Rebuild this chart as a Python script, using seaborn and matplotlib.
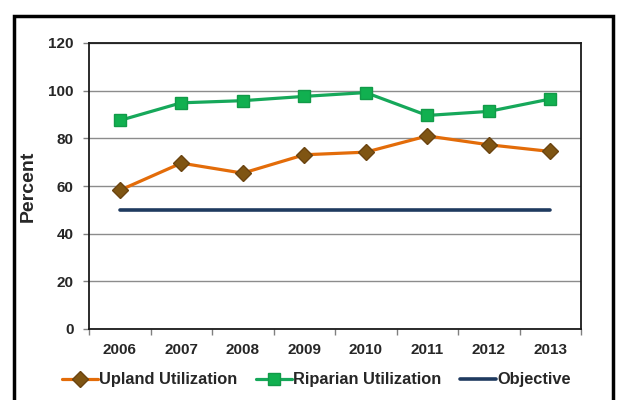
import numpy as np
import pandas as pd
import matplotlib
matplotlib.use("Agg")
import matplotlib.pyplot as plt
import seaborn as sns
from matplotlib.patches import Rectangle

years = ["2006", "2007", "2008", "2009", "2010", "2011", "2012", "2013"]
upland = [58.2, 69.6, 65.4, 73.1, 74.2, 81.0, 77.3, 74.5]
riparian = [87.5, 94.9, 95.8, 97.6, 99.2, 89.6, 91.3, 96.5]
objective = [50, 50, 50, 50, 50, 50, 50, 50]
yticks = [0, 20, 40, 60, 80, 100, 120]

sns.set_theme(style="white")
plt.rcParams['font.family'] = ['Liberation Sans', 'DejaVu Sans']

fig = plt.figure(figsize=(6.18, 4.0), dpi=100)
ax = fig.add_axes([89 / 618, 1 - 329 / 400, (581 - 89) / 618, (329 - 43) / 400])

x = np.arange(len(years))
df = pd.DataFrame({"x": x, "Upland": upland, "Riparian": riparian, "Objective": objective})

sns.lineplot(data=df, x="x", y="Upland", ax=ax, color="#E36C09", lw=2.3,
             marker="D", markersize=8, markerfacecolor="#7F5513",
             markeredgecolor="#6B4410", markeredgewidth=1, label="Upland Utilization")
sns.lineplot(data=df, x="x", y="Riparian", ax=ax, color="#16A85A", lw=2.3,
             marker="s", markersize=8, markerfacecolor="#11B050",
             markeredgecolor="#119A48", markeredgewidth=1, label="Riparian Utilization")
sns.lineplot(data=df, x="x", y="Objective", ax=ax, color="#1F3A5F", lw=2.6,
             label="Objective")

ax.set_xlim(-0.5, len(years) - 0.5)
ax.set_ylim(0, 120)
ax.set_yticks(yticks)
ax.set_yticklabels([str(v) for v in yticks], fontsize=11, fontweight="bold")
ax.set_xticks(x)
ax.set_xticklabels(years, fontsize=11, fontweight="bold")
ax.set_xticks(np.arange(-0.5, len(years), 1.0), minor=True)
ax.tick_params(axis="x", which="major", length=0, pad=10)
ax.tick_params(axis="x", which="minor", length=4, width=1, color="#808080", bottom=True)
ax.tick_params(axis="y", which="major", length=4, width=1, color="#808080", left=True, pad=7)
ax.yaxis.grid(True, color="#8C8C8C", lw=1)
ax.xaxis.grid(False)
ax.set_axisbelow(True)
for s in ax.spines.values():
    s.set_visible(True)
    s.set_color("#1A1A1A")
    s.set_linewidth(1.3)
ax.set_xlabel("")
ax.set_ylabel("Percent", fontsize=14, fontweight="bold", labelpad=8)

leg = ax.legend(loc="center", bbox_to_anchor=(0.462, -0.178), ncol=3, frameon=False,
                handlelength=2.2, handletextpad=0.05, columnspacing=1.15,
                prop={"weight": "bold", "size": 11.8})

fig.patches.append(Rectangle((14 / 618, -0.05), (613 - 14) / 618, 1.05 - 16 / 400,
                             transform=fig.transFigure, fill=False, edgecolor="black",
                             lw=2.5, zorder=10))

fig.savefig("out.png", dpi=100)
